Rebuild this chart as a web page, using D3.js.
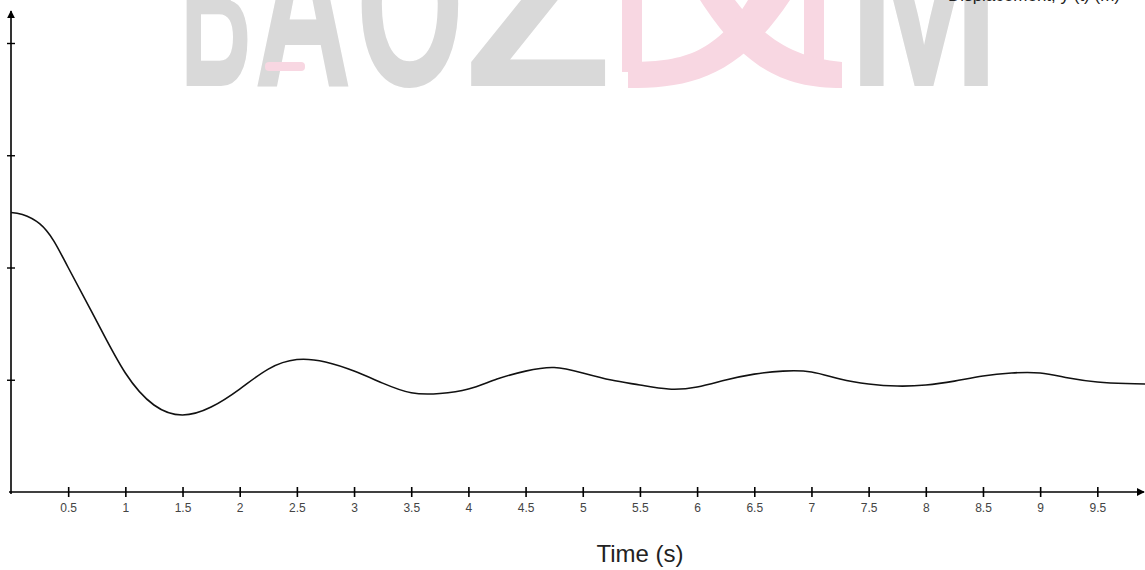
<!DOCTYPE html>
<html>
<head>
<meta charset="utf-8">
<script src="https://cdn.jsdelivr.net/npm/d3@7"></script>
<style>
  html, body { margin: 0; padding: 0; background: #fff; }
  svg { display: block; }
</style>
</head>
<body>
<svg id="chart" width="1145" height="570"></svg>
<script>
// ---- data ----
const timeValues = [0, 0.1, 0.25, 0.375, 0.5, 0.75, 1.0, 1.25, 1.5, 1.75, 2.0, 2.25, 2.5, 2.75, 3.0, 3.25, 3.5, 3.75,
  4.0, 4.25, 4.5, 4.75, 5.0, 5.25, 5.5, 5.75, 6.0, 6.25, 6.5, 6.75, 7.0, 7.25, 7.5, 7.75,
  8.0, 8.25, 8.5, 8.75, 9.0, 9.25, 9.5, 9.75, 9.92];
const responseValues = [2.49, 2.472, 2.39, 2.235, 2.00, 1.52, 1.06, 0.775, 0.686, 0.757, 0.917, 1.095, 1.18, 1.158, 1.077, 0.97, 0.884, 0.877,
  0.917, 1.006, 1.077, 1.109, 1.06, 0.997, 0.953, 0.917, 0.935, 0.997, 1.05, 1.077, 1.069, 1.006, 0.962, 0.944,
  0.953, 0.988, 1.033, 1.06, 1.06, 1.015, 0.98, 0.966, 0.962];
const xTickValues = [0.5, 1, 1.5, 2, 2.5, 3, 3.5, 4, 4.5, 5, 5.5, 6, 6.5, 7, 7.5, 8, 8.5, 9, 9.5];
const xTickLabels = ["0.5", "1", "1.5", "2", "2.5", "3", "3.5", "4", "4.5", "5", "5.5", "6", "6.5", "7", "7.5", "8", "8.5", "9", "9.5"];
const yTickValues = [1, 2, 3, 4];
const xAxisTitle = "Time (s)";
const captionText = "Displacement, y (t) (m)";
const watermarkLetters = ["B", "A", "O", "Z", "M"];

// ---- drawing ----
const svg = d3.select("#chart");
const x = d3.scaleLinear().domain([0, 10]).range([11, 1154.5]);
const y = d3.scaleLinear().domain([0, 4]).range([492, 43]);

// watermark (letters are cut by the top edge, as in the reference)
const wm = svg.append("g").attr("class", "watermark");
const wmSpans = [[180, 252], [254, 352], [356, 464], [464, 612], [848, 1000]];
watermarkLetters.forEach((c, i) => {
  wm.append("text")
    .attr("x", wmSpans[i][0]).attr("y", 86)
    .attr("textLength", wmSpans[i][1] - wmSpans[i][0])
    .attr("lengthAdjust", "spacingAndGlyphs")
    .attr("font-family", "Liberation Sans, Arial, sans-serif")
    .attr("font-weight", "bold")
    .attr("font-size", 235)
    .attr("fill", "#d9d9d9")
    .text(c);
});
// pink bar in the A
wm.append("rect").attr("x", 265).attr("y", 62).attr("width", 40).attr("height", 9).attr("rx", 4).attr("fill", "#f8d7e2");
// pink logo shape
wm.append("rect").attr("x", 622).attr("y", 0).attr("width", 20).attr("height", 72).attr("fill", "#f8d7e2");
wm.append("rect").attr("x", 804).attr("y", 0).attr("width", 20).attr("height", 72).attr("fill", "#f8d7e2");
wm.append("path")
  .attr("d", "M655,0 L700,0 C745,70 785,88 842,88 L842,62 C795,58 765,40 735,0 Z")
  .attr("fill", "#f8d7e2");
wm.append("path")
  .attr("d", "M790,0 L748,0 C715,55 680,62 628,62 L628,88 C690,88 738,78 790,0 Z")
  .attr("fill", "#f8d7e2");

// cropped top-right caption (mostly outside the picture)
svg.append("text")
  .attr("x", 1120).attr("y", 1)
  .attr("text-anchor", "end")
  .attr("font-family", "Liberation Sans, Arial, sans-serif")
  .attr("font-size", 17)
  .attr("fill", "#222")
  .text(captionText);

// arrow marker
const defs = svg.append("defs");
defs.append("marker")
  .attr("id", "arrow")
  .attr("viewBox", "0 0 10 10")
  .attr("refX", 9).attr("refY", 5)
  .attr("markerWidth", 5).attr("markerHeight", 5)
  .attr("markerUnits", "strokeWidth")
  .attr("orient", "auto")
  .append("path").attr("d", "M0,0 L10,5 L0,10 Z").attr("fill", "#000");

// x axis
const xAxis = d3.axisBottom(x)
  .tickValues(xTickValues)
  .tickFormat((d, i) => xTickLabels[i])
  .tickSize(5);
const gx = svg.append("g").attr("transform", `translate(0,${y(0)})`).call(xAxis);
gx.select(".domain").remove();
gx.selectAll(".tick line").attr("y1", -5).attr("y2", 5).attr("stroke", "#000").attr("stroke-width", 1.6);
gx.selectAll(".tick text")
  .attr("y", 20).attr("dy", 0)
  .attr("font-family", "Liberation Sans, Arial, sans-serif")
  .attr("font-size", 12)
  .attr("fill", "#444");
svg.append("line")
  .attr("x1", x(0) - 2).attr("x2", 1144)
  .attr("y1", y(0)).attr("y2", y(0))
  .attr("stroke", "#000").attr("stroke-width", 1.6)
  .attr("marker-end", "url(#arrow)");

// y axis
const yAxis = d3.axisLeft(y).tickValues(yTickValues).tickFormat("").tickSize(4);
const gy = svg.append("g").attr("transform", `translate(${x(0)},0)`).call(yAxis);
gy.select(".domain").remove();
gy.selectAll(".tick line").attr("x1", -4).attr("x2", 4).attr("stroke", "#000").attr("stroke-width", 1.4);
svg.append("line")
  .attr("x1", x(0)).attr("x2", x(0))
  .attr("y1", y(0) + 2).attr("y2", 11)
  .attr("stroke", "#000").attr("stroke-width", 1.6)
  .attr("marker-end", "url(#arrow)");

// response curve
const data = timeValues.map((t, i) => ({t, v: responseValues[i]}));
svg.append("path")
  .datum(data)
  .attr("fill", "none")
  .attr("stroke", "#111")
  .attr("stroke-width", 1.6)
  .attr("d", d3.line().x(d => x(d.t)).y(d => y(d.v)).curve(d3.curveNatural));

// axis title
svg.append("text")
  .attr("x", 640).attr("y", 562)
  .attr("text-anchor", "middle")
  .attr("font-family", "Liberation Sans, Arial, sans-serif")
  .attr("font-size", 24)
  .attr("fill", "#222")
  .text(xAxisTitle);
</script>
</body>
</html>
